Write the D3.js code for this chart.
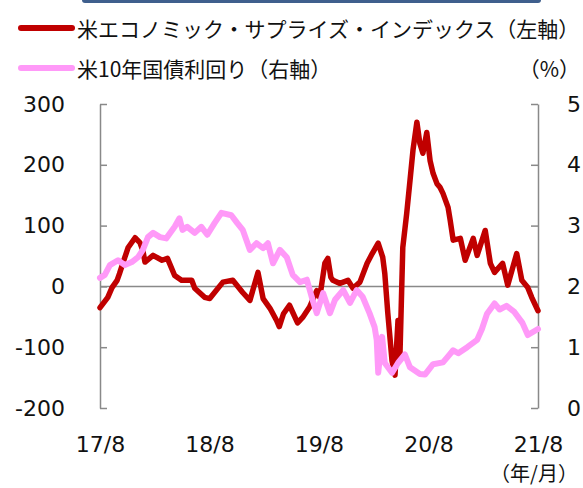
<!DOCTYPE html>
<html>
<head>
<meta charset="utf-8">
<script src="https://cdn.jsdelivr.net/npm/d3@7"></script>
<style>
  body { margin: 0; background: #fff; }
  svg { display: block; }
</style>
</head>
<body>
<div id="vis"></div>
<script>
// 系列名
const seriesNames = ["米エコノミック・サプライズ・インデックス（左軸）", "米10年国債利回り（右軸）"];

// 米エコノミック・サプライズ・インデックス（左軸）
const esiDates = ["2017-08-01","2017-08-27","2017-09-10","2017-09-27","2017-10-05","2017-10-23","2017-11-03","2017-11-26","2017-12-12","2017-12-22","2017-12-29","2018-01-25","2018-02-24","2018-03-14","2018-04-07","2018-04-30","2018-06-03","2018-06-13","2018-07-16","2018-08-02","2018-09-15","2018-10-18","2018-11-20","2018-12-14","2019-01-10","2019-01-27","2019-02-19","2019-03-13","2019-03-22","2019-04-05","2019-04-25","2019-05-22","2019-06-08","2019-07-01","2019-07-25","2019-08-04","2019-08-21","2019-08-31","2019-09-10","2019-09-17","2019-10-10","2019-11-06","2019-11-23","2019-12-16","2020-01-09","2020-01-26","2020-02-15","2020-03-01","2020-03-08","2020-03-18","2020-04-01","2020-04-11","2020-04-21","2020-04-27","2020-05-07","2020-05-20","2020-05-31","2020-06-10","2020-06-23","2020-07-03","2020-07-13","2020-07-26","2020-08-06","2020-08-16","2020-08-29","2020-09-08","2020-09-18","2020-10-05","2020-10-12","2020-10-22","2020-11-15","2020-12-01","2020-12-28","2021-01-10","2021-02-06","2021-02-23","2021-03-09","2021-04-05","2021-04-22","2021-05-22","2021-06-08","2021-06-28","2021-07-11","2021-08-01"];
const esiValues = [-35,-18,-2,10,21,48,64,80,72,59,40,51,43,46,18,10,10,-3,-18,-20,7,10,-10,-23,23,-20,-36,-56,-66,-45,-31,-60,-51,-34,-7,-18,38,46,15,10,5,10,-3,7,38,54,71,48,21,-44,-122,-146,-56,-122,64,120,174,224,270,235,219,253,207,186,169,163,153,130,109,76,79,43,79,51,92,38,23,38,2,54,10,-2,-18,-40];

// 米10年国債利回り（右軸, %）
const ustDates = ["2017-08-01","2017-08-17","2017-09-03","2017-09-30","2017-10-23","2017-11-15","2017-12-06","2017-12-22","2018-01-08","2018-01-25","2018-02-17","2018-03-10","2018-04-07","2018-04-23","2018-05-03","2018-05-19","2018-06-13","2018-07-05","2018-07-25","2018-08-18","2018-09-10","2018-10-13","2018-11-02","2018-11-20","2018-12-14","2019-01-05","2019-01-27","2019-02-12","2019-03-01","2019-03-24","2019-04-16","2019-05-06","2019-05-30","2019-06-22","2019-07-08","2019-07-25","2019-08-15","2019-09-07","2019-09-24","2019-10-21","2019-11-13","2019-12-05","2019-12-25","2020-01-17","2020-02-03","2020-02-10","2020-02-15","2020-02-28","2020-03-08","2020-04-01","2020-04-21","2020-05-14","2020-05-31","2020-07-03","2020-07-20","2020-08-16","2020-09-18","2020-10-05","2020-10-22","2020-11-08","2020-12-08","2021-01-10","2021-01-26","2021-02-12","2021-03-09","2021-03-26","2021-04-18","2021-05-14","2021-06-10","2021-06-28","2021-07-15","2021-08-01"];
const ustValues = [2.14,2.19,2.35,2.43,2.35,2.40,2.48,2.60,2.81,2.88,2.81,2.79,2.98,3.12,2.93,2.98,2.88,2.98,2.85,3.04,3.21,3.17,3.04,2.93,2.60,2.71,2.63,2.71,2.38,2.60,2.48,2.19,2.07,2.11,1.83,1.56,1.89,1.56,1.78,1.94,1.73,1.94,1.83,1.56,1.33,1.12,0.58,1.17,0.74,0.58,0.74,0.88,0.67,0.56,0.55,0.72,0.75,0.85,0.95,0.90,1.00,1.12,1.30,1.55,1.72,1.62,1.68,1.58,1.40,1.20,1.25,1.30];

// 目盛
const leftTicks = [300, 200, 100, 0, -100, -200];
const rightTicks = [5, 4, 3, 2, 1, 0];
const xTickDates = ["2017-08-01","2018-08-01","2019-08-01","2020-08-01","2021-08-01"];

const parseDate = d3.timeParse("%Y-%m-%d");
const esi = esiDates.map((d, i) => ({date: parseDate(d), value: esiValues[i]}));
const ust = ustDates.map((d, i) => ({date: parseDate(d), value: ustValues[i]}));

const width = 583, height = 488;
const plot = {left: 100, right: 538, top: 104, bottom: 408};
const gray = "#898989";
const numFont = "'DejaVu Sans', Verdana, sans-serif";
const jpFont = "'Noto Sans CJK JP', sans-serif";

const svg = d3.select("#vis").append("svg")
    .attr("width", width)
    .attr("height", height);

// 上部の帯
svg.append("rect")
    .attr("x", 82).attr("y", -6)
    .attr("width", 459).attr("height", 9)
    .attr("rx", 3)
    .attr("fill", "#3f5f8d");

const x = d3.scaleTime()
    .domain([parseDate("2017-08-01"), parseDate("2021-08-01")])
    .range([plot.left, plot.right]);
const yL = d3.scaleLinear().domain([-200, 300]).range([plot.bottom, plot.top]);
const yR = d3.scaleLinear().domain([0, 5]).range([plot.bottom, plot.top]);

// 左軸（マイナスはハイフン表記）
const gL = svg.append("g")
    .attr("transform", `translate(${plot.left},0)`)
    .call(d3.axisLeft(yL).tickValues(leftTicks).tickSize(-7).tickSizeOuter(0).tickPadding(35).tickFormat(d => String(d)));
// 右軸
const gR = svg.append("g")
    .attr("transform", `translate(${plot.right},0)`)
    .call(d3.axisRight(yR).tickValues(rightTicks).tickSize(-7).tickSizeOuter(0).tickPadding(29).tickFormat(d => String(d)));

[gL, gR].forEach(g => {
    g.select(".domain").attr("stroke", gray).attr("stroke-width", 1.5);
    g.selectAll(".tick line").attr("stroke", gray).attr("stroke-width", 1.5);
    g.selectAll(".tick text")
        .attr("fill", "#111")
        .style("font-family", numFont)
        .style("font-size", "22px");
});

// 横軸ラベル
const gX = svg.append("g")
    .attr("transform", `translate(0,${plot.bottom})`)
    .call(d3.axisBottom(x).tickValues(xTickDates.map(parseDate)).tickSize(0).tickPadding(28).tickFormat(d3.timeFormat("%y/%-m")));
gX.select(".domain").remove();
gX.selectAll(".tick text")
    .attr("fill", "#111")
    .style("font-family", numFont)
    .style("font-size", "22px");

svg.append("text")
    .attr("x", 534).attr("y", 472)
    .attr("text-anchor", "middle")
    .attr("dominant-baseline", "central")
    .style("font-family", jpFont)
    .style("font-size", "20px")
    .attr("fill", "#111")
    .text("（年/月）");

// ゼロ線
svg.append("line")
    .attr("x1", plot.left).attr("x2", plot.right)
    .attr("y1", yL(0)).attr("y2", yL(0))
    .attr("stroke", gray).attr("stroke-width", 1.5);

// 系列
const lineL = d3.line().x(d => x(d.date)).y(d => yL(d.value));
const lineR = d3.line().x(d => x(d.date)).y(d => yR(d.value));

svg.append("path")
    .datum(esi)
    .attr("d", lineL)
    .attr("fill", "none")
    .attr("stroke", "#c00000")
    .attr("stroke-width", 5.5)
    .attr("stroke-linejoin", "round")
    .attr("stroke-linecap", "round");

svg.append("path")
    .datum(ust)
    .attr("d", lineR)
    .attr("fill", "none")
    .attr("stroke", "#ff99f8")
    .attr("stroke-width", 6)
    .attr("stroke-linejoin", "round")
    .attr("stroke-linecap", "round");

// 凡例
const legend = [
    {name: seriesNames[0], color: "#c00000", y: 28},
    {name: seriesNames[1], color: "#ff99f8", y: 68}
];
legend.forEach(l => {
    svg.append("line")
        .attr("x1", 21).attr("x2", 72)
        .attr("y1", l.y).attr("y2", l.y)
        .attr("stroke", l.color)
        .attr("stroke-width", 6)
        .attr("stroke-linecap", "round");
    svg.append("text")
        .attr("x", 77).attr("y", l.y)
        .attr("dominant-baseline", "central")
        .style("font-family", jpFont)
        .style("font-size", "21px")
        .attr("fill", "#111")
        .text(l.name);
});

svg.append("text")
    .attr("x", 580).attr("y", 68)
    .attr("text-anchor", "end")
    .attr("dominant-baseline", "central")
    .style("font-family", jpFont)
    .style("font-size", "21px")
    .attr("fill", "#111")
    .text("（%）");
</script>
</body>
</html>
